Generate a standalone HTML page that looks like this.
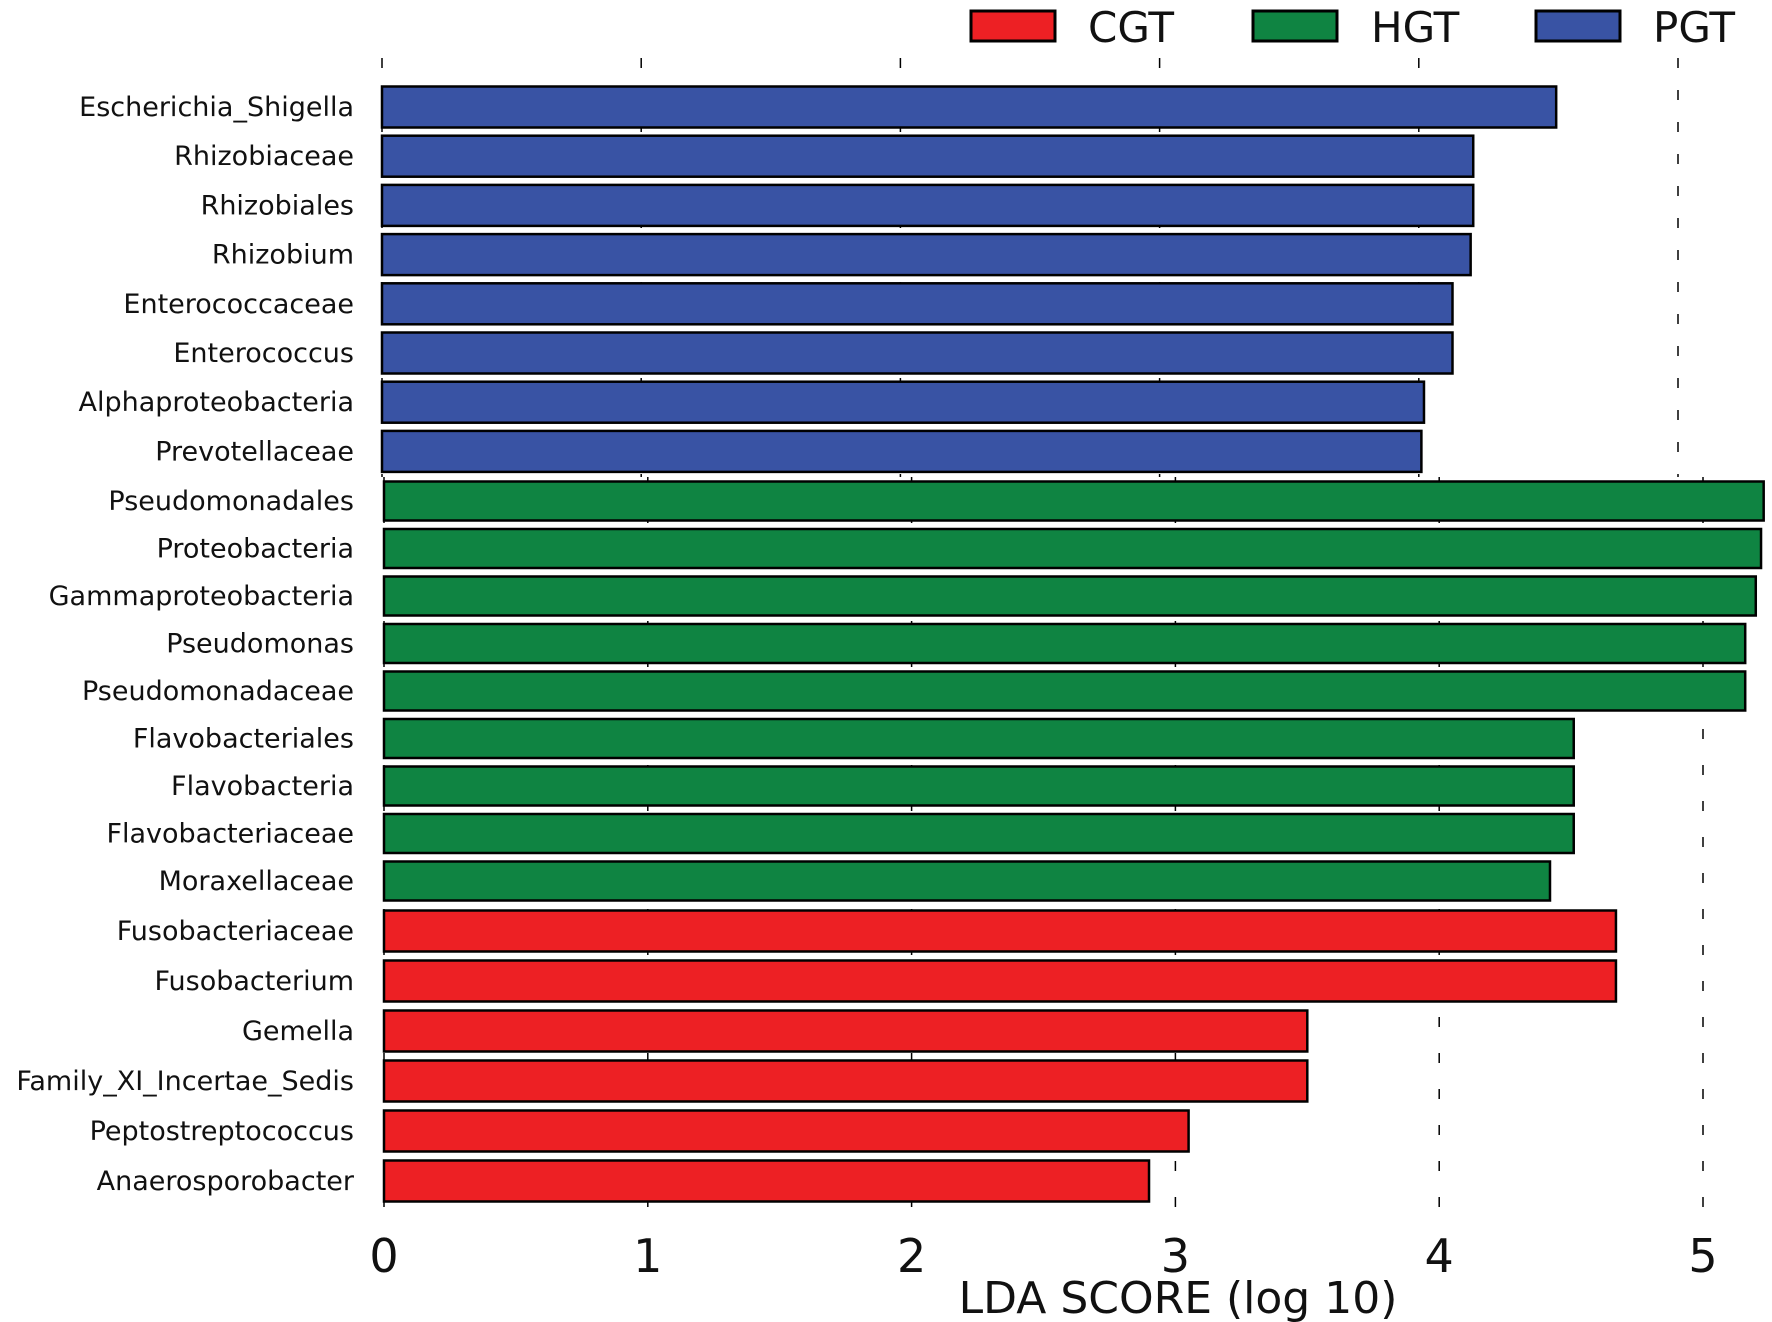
<!DOCTYPE html>
<html><head><meta charset="utf-8"><style>
html,body{margin:0;padding:0;background:#fff;}
svg{display:block;font-family:"DejaVu Sans","Liberation Sans",sans-serif;}
</style></head><body>
<svg id="chart" width="1772" height="1322" viewBox="0 0 1772 1322"></svg>
<script>
const pgtLabels=["Escherichia_Shigella","Rhizobiaceae","Rhizobiales","Rhizobium","Enterococcaceae","Enterococcus","Alphaproteobacteria","Prevotellaceae"];
const pgtValues=[4.53,4.21,4.21,4.20,4.13,4.13,4.02,4.01];
const hgtLabels=["Pseudomonadales","Proteobacteria","Gammaproteobacteria","Pseudomonas","Pseudomonadaceae","Flavobacteriales","Flavobacteria","Flavobacteriaceae","Moraxellaceae"];
const hgtValues=[5.23,5.22,5.20,5.16,5.16,4.51,4.51,4.51,4.42];
const cgtLabels=["Fusobacteriaceae","Fusobacterium","Gemella","Family_XI_Incertae_Sedis","Peptostreptococcus","Anaerosporobacter"];
const cgtValues=[4.67,4.67,3.50,3.50,3.05,2.90];
const tickLabels=["0","1","2","3","4","5"];

const NS="http://www.w3.org/2000/svg";
const svg=document.getElementById('chart');
function mk(t,a,p){const e=document.createElementNS(NS,t);for(const k in a)e.setAttribute(k,a[k]);(p||svg).appendChild(e);return e;}
const xTop=v=>382+v*259.2;
const xLow=v=>384+v*263.8;

for(let i=0;i<tickLabels.length;i++){
  const g1=mk('line',{x1:xTop(i),x2:xTop(i),y1:58,y2:477,stroke:'#000','stroke-width':1.5,'stroke-dasharray':'10,22'});
  
  
  const g2=mk('line',{x1:xLow(i),x2:xLow(i),y1:477,y2:1210,stroke:'#000','stroke-width':1.5,'stroke-dasharray':'10,26'});
  
  
  const t=mk('text',{x:xLow(i),y:1272,'text-anchor':'middle','font-size':46,fill:'#111'});
  t.textContent=tickLabels[i];
  
  
}

function group(labels,values,xf,y0,step,h,color,name){
  for(let i=0;i<labels.length;i++){
    const cy=y0+i*step;
    const r=mk('rect',{x:xf(0),y:cy-h/2,width:xf(values[i])-xf(0),height:h,fill:color,stroke:'#000','stroke-width':2.5});
    
    
    const t=mk('text',{x:354,y:cy+9,'text-anchor':'end','font-size':27,fill:'#111'});
    t.textContent=labels[i];
    
    
  }
}
group(pgtLabels,pgtValues,xTop,107,49.2,41,'#3953a4','pgt');
group(hgtLabels,hgtValues,xLow,501,47.5,39,'#0f8442','hgt');
group(cgtLabels,cgtValues,xLow,931,50,41,'#ed2024','cgt');

const title=mk('text',{x:1178,y:1313,'text-anchor':'middle','font-size':44,fill:'#111'});
title.textContent='LDA SCORE (log 10)';



const legend=[["CGT",'#ed2024',971,1088],["HGT",'#0f8442',1253,1371],["PGT",'#3953a4',1536,1653]];
for(const [lab,col,bx,tx] of legend){
  const r=mk('rect',{x:bx,y:11,width:84,height:30,fill:col,stroke:'#000','stroke-width':3});
  
  
  const t=mk('text',{x:tx,y:42,'font-size':42,fill:'#111'});
  t.textContent=lab;
  
  
}
</script>
</body></html>
